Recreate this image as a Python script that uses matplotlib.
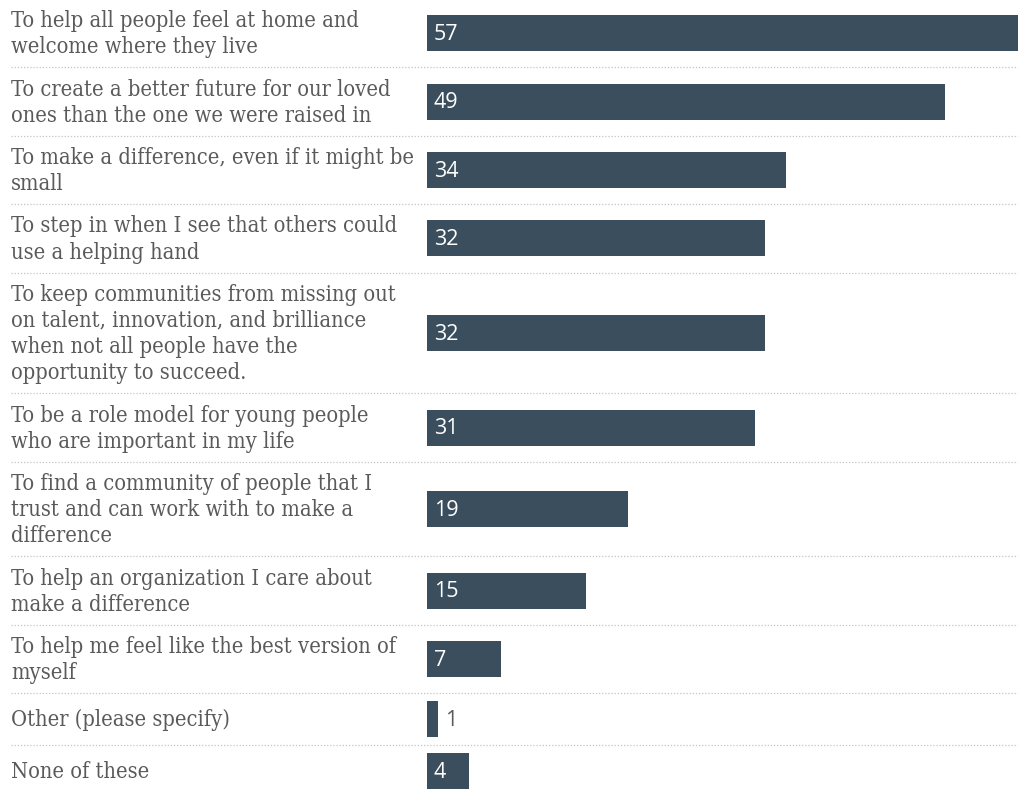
import matplotlib
matplotlib.use("Agg")
import matplotlib.pyplot as plt
from matplotlib.transforms import blended_transform_factory
from matplotlib.font_manager import FontProperties

# Survey answers, each label already broken into its display lines
labels = [
    ["To help all people feel at home and", "welcome where they live"],
    ["To create a better future for our loved", "ones than the one we were raised in"],
    ["To make a difference, even if it might be", "small"],
    ["To step in when I see that others could", "use a helping hand"],
    ["To keep communities from missing out", "on talent, innovation, and brilliance",
     "when not all people have the", "opportunity to succeed."],
    ["To be a role model for young people", "who are important in my life"],
    ["To find a community of people that I", "trust and can work with to make a",
     "difference"],
    ["To help an organization I care about", "make a difference"],
    ["To help me feel like the best version of", "myself"],
    ["Other (please specify)"],
    ["None of these"],
]
values = [57, 49, 34, 32, 32, 31, 19, 15, 7, 1, 4]

BAR_COLOR = "#3a4e5e"
TEXT_COLOR = "#5a5a5a"
GRID_COLOR = "#c4c4c4"

W, H = 1018, 789
fig = plt.figure(figsize=(W / 100, H / 100), dpi=100)
fig.patch.set_facecolor("white")

# bar area: starts at x=427 px, scale ~10.57 px per unit
bar_left = 427
px_per_unit = 10.57
ax = fig.add_axes([bar_left / W, 0, (W - bar_left) / W, 1])
ax.set_xlim(0, (W - bar_left) / px_per_unit)
ax.set_ylim(H, 0)
ax.axis("off")

# row layout (vertical units are pixels)
line_h = 26.2
pad = 16
bar_h = 36
row_heights = [max(len(l) * line_h, bar_h) + pad for l in labels]
tops = []
y = -1.0
for h in row_heights:
    tops.append(y)
    y += h
centers = [t + h / 2 for t, h in zip(tops, row_heights)]

ax.barh(centers, values, height=bar_h, color=BAR_COLOR, edgecolor="none")

# label font, sized so the widest line spans ~400 px
label_fp = FontProperties(family="DejaVu Serif", stretch="condensed", size=10)
renderer = fig.canvas.get_renderer()
probe = fig.text(0, 0, "To make a difference, even if it might be", fontproperties=label_fp)
probe_w = probe.get_window_extent(renderer).width
probe.remove()
label_size = 10 * 400 / probe_w
label_fp = FontProperties(family="DejaVu Serif", stretch="condensed", size=label_size)

trans_lbl = blended_transform_factory(fig.transFigure, ax.transData)
for lines, c in zip(labels, centers):
    n = len(lines)
    for i, line in enumerate(lines):
        yb = c + (i - (n - 1) / 2) * line_h + 7
        ax.text(11 / W, yb, line, transform=trans_lbl, fontproperties=label_fp,
                color=TEXT_COLOR, ha="left", va="baseline")

# value labels: inside the bar in white, outside in grey when the bar is too short
for v, c in zip(values, centers):
    bar_px = v * px_per_unit
    if bar_px > 30:
        ax.text(7 / px_per_unit, c + 6.5, str(v), color="white", fontsize=15.5,
                family="Open Sans", ha="left", va="baseline")
    else:
        ax.text(v + 7 / px_per_unit, c + 6.5, str(v), color=TEXT_COLOR, fontsize=15.5,
                family="Open Sans", ha="left", va="baseline")

# dotted separators between rows
for t in tops[1:]:
    ax.plot([11 / W, 1.0], [t, t], transform=trans_lbl, color=GRID_COLOR,
            linestyle=(0, (1, 1.5)), linewidth=0.9, clip_on=False)

fig.savefig("out.png", dpi=100, facecolor="white")
